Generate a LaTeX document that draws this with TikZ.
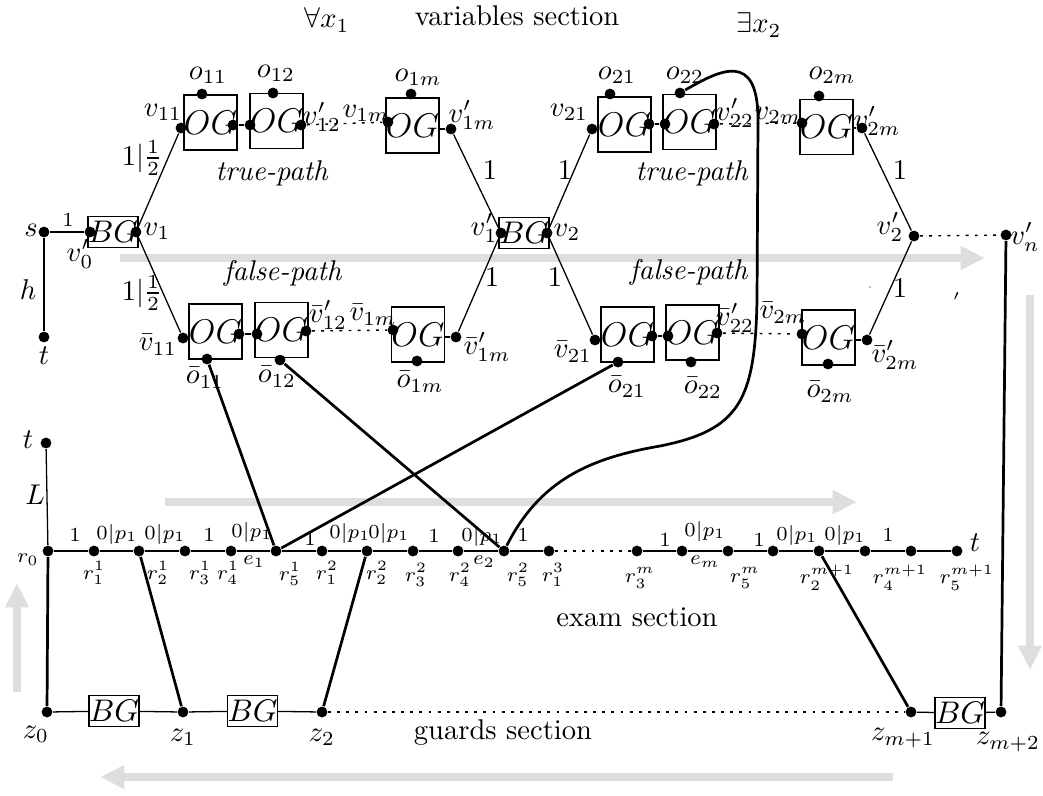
\documentclass[tikz,border=0pt]{standalone}
\usetikzlibrary{arrows.meta}
\begin{document}
\begin{tikzpicture}[x=0.35pt,y=-0.35pt,
  dot/.style={circle,fill=black,inner sep=0pt,minimum size=3.8pt},
  ogbox/.style={draw,rectangle,line width=0.45pt,minimum width=17.2pt,minimum height=19.3pt,inner sep=0pt,font=\large},
  bgbox/.style={draw,rectangle,line width=0.45pt,minimum width=16.2pt,minimum height=10.8pt,inner sep=0pt,font=\fontsize{10.5}{12}\selectfont},
  lbl/.style={inner sep=0pt},
  small/.style={inner sep=0pt,font=\scriptsize},
  wire/.style={line width=0.45pt},
  link/.style={line width=0.95pt},
  dotline/.style={line width=0.5pt,dash pattern=on 1pt off 2.2pt},
  flow/.style={draw=black!13,line width=2.5pt,-{Triangle[length=8.5pt,width=7.8pt]}}]
\useasboundingbox (0,0) rectangle (1043,795);

% ---------- direction arrows ----------
\draw[flow] (120,258) -- (985,258);
\draw[flow] (1030,295) -- (1030,670);
\draw[flow] (893,777) -- (100,777);
\draw[flow] (17,692) -- (17,583);
\draw[flow] (165,502) -- (857,502);

% ---------- headings ----------
\node[lbl] (hfa) at (327,20) {$\forall x_1$};
\node[lbl] (hvar) at (517,16) {variables section};
\node[lbl] (hex) at (759,25) {$\exists x_2$};

% ---------- start gadget ----------
\node[dot] (s) at (44,232) {};
\node[lbl] (ls) at (31,230) {$s$};
\node[dot] (t0) at (44,337) {};
\node[lbl] (lt0) at (44,356) {$t$};
\node[lbl] (lh) at (28,290) {$h$};
\node[bgbox] (bg1) at (113,232) {$BG$};
\node[dot] (v0) at (90,232) {};
\node[dot] (v1) at (136,232) {};
\node[lbl] (lv0) at (80,254) {$v'_0$};
\node[lbl] (lv1) at (157,231) {$v_1$};
\node[small] (ls1) at (68,220) {$1$};
\draw[wire] (s) -- (v0);
\draw[wire] (s) -- (t0);

% ---------- true path of x1 ----------
\node[ogbox] (b11) at (210.5,122.5) {$OG$};
\node[ogbox] (b12) at (276.5,121) {$OG$};
\node[ogbox] (b1m) at (412.5,125.5) {$OG$};
\node[dot] (v11) at (181,128) {};
\node[dot] (b11r) at (233,125) {};
\node[dot] (b12l) at (250,125) {};
\node[dot] (v12p) at (301,125) {};
\node[dot] (o11) at (202,94) {};
\node[dot] (o12) at (273,93) {};
\node[dot] (v1m) at (388,122) {};
\node[dot] (o1m) at (411,94) {};
\node[dot] (v1mp) at (451,129) {};
\draw[wire] (b11r) -- (b12l);
\draw[dotline] (v12p) -- (v1m);
\draw[wire] (b1m.east |- v1mp) -- (v1mp);
\node[lbl] (lo11) at (208,75) {$o_{11}$};
\node[lbl] (lo12) at (276,73) {$o_{12}$};
\node[lbl] (lv11) at (163,112) {$v_{11}$};
\node[lbl] (lv12p) at (322,117) {$v'_{12}$};
\node[lbl] (lv1m) at (366,113) {$v_{1m}$};
\node[lbl] (lo1m) at (418,77) {$o_{1m}$};
\node[lbl] (lv1mp) at (472,115) {$v'_{1m}$};
\node[lbl] (ltp1) at (272,173) {\textit{true-path}};

% ---------- false path of x1 ----------
\node[ogbox] (f11) at (215.5,331.5) {$OG$};
\node[ogbox] (f12) at (281.5,330) {$OG$};
\node[ogbox] (f1m) at (418,334.5) {$OG$};
\node[dot] (vb11) at (183,338) {};
\node[dot] (f11r) at (239,334) {};
\node[dot] (f12l) at (257,334) {};
\node[dot] (vb12p) at (306,331) {};
\node[dot] (ob11) at (207,359) {};
\node[dot] (ob12) at (280,360) {};
\node[dot] (vb1m) at (393,330) {};
\node[dot] (ob1m) at (417,361) {};
\node[dot] (vb1mp) at (456,337) {};
\draw[wire] (f11r) -- (f12l);
\draw[dotline] (vb12p) -- (vb1m);
\draw[wire] (f1m.east |- vb1mp) -- (vb1mp);
\node[lbl] (lvb11) at (158,345) {$\bar v_{11}$};
\node[lbl] (lob11) at (205,378) {$\bar o_{11}$};
\node[lbl] (lob12) at (277,377) {$\bar o_{12}$};
\node[lbl] (lvb12p) at (328,315) {$\bar v'_{12}$};
\node[lbl] (lvb1m) at (373,315) {$\bar v_{1m}$};
\node[lbl] (lob1m) at (420,382) {$\bar o_{1m}$};
\node[lbl] (lvb1mp) at (487,347) {$\bar v'_{1m}$};
\node[lbl] (lfp1) at (283,273) {\textit{false-path}};

\draw[wire] (v1) -- (v11);
\draw[wire] (v1) -- (vb11);
\node[lbl] (lw1) at (142,158) {$1|\frac{1}{2}$};
\node[lbl] (lw2) at (142,293) {$1|\frac{1}{2}$};

% ---------- junction between x1 and x2 ----------
\node[bgbox] (bg2) at (524,233) {$BG$};
\node[dot] (v1p) at (501,233) {};
\node[dot] (v2) at (547,233) {};
\node[lbl] (lv1p) at (484,228) {$v'_1$};
\node[lbl] (lv2) at (567,232) {$v_2$};
\draw[wire] (v1mp) -- (v1p);
\draw[wire] (vb1mp) -- (v1p);
\node[lbl] (lw3) at (490,170) {$1$};
\node[lbl] (lw4) at (492,277) {$1$};

% ---------- true path of x2 ----------
\node[ogbox] (b21) at (624.5,124.5) {$OG$};
\node[ogbox] (b22) at (689.5,122) {$OG$};
\node[ogbox] (b2m) at (826.5,127) {$OG$};
\node[dot] (v21) at (592,129) {};
\node[dot] (b21r) at (649,124) {};
\node[dot] (b22l) at (665,124) {};
\node[dot] (o21) at (610,94) {};
\node[dot] (o22) at (680,93) {};
\node[dot] (v22p) at (714,124) {};
\node[dot] (v2m) at (802,123) {};
\node[dot] (o2m) at (819,96) {};
\node[dot] (v2mp) at (862,128) {};
\draw[wire] (b21r) -- (b22l);
\draw[dotline] (v22p) -- (v2m);
\draw[wire] (b2m.east |- v2mp) -- (v2mp);
\node[lbl] (lv21) at (569,112) {$v_{21}$};
\node[lbl] (lo21) at (617,75) {$o_{21}$};
\node[lbl] (lo22) at (685,75) {$o_{22}$};
\node[lbl] (lv22p) at (735,113) {$v'_{22}$};
\node[lbl] (lv2m) at (778,115) {$v_{2m}$};
\node[lbl] (lo2m) at (832,75) {$o_{2m}$};
\node[lbl] (lv2mp) at (877,121) {$v'_{2m}$};
\node[lbl] (ltp2) at (692,173) {\textit{true-path}};

% ---------- false path of x2 ----------
\node[ogbox] (f21) at (627.5,334.5) {$OG$};
\node[ogbox] (f22) at (692.5,332.5) {$OG$};
\node[ogbox] (f2m) at (828.5,337.5) {$OG$};
\node[dot] (vb21) at (595,340) {};
\node[dot] (f21r) at (652,336) {};
\node[dot] (f22l) at (668,336) {};
\node[dot] (ob21) at (618,362) {};
\node[dot] (ob22) at (691,362) {};
\node[dot] (vb22p) at (717,333) {};
\node[dot] (vb2m) at (802,334) {};
\node[dot] (ob2m) at (828,364) {};
\node[dot] (vb2mp) at (867,340) {};
\draw[wire] (f21r) -- (f22l);
\draw[dotline] (vb22p) -- (vb2m);
\draw[wire] (f2m.east |- vb2mp) -- (vb2mp);
\node[lbl] (lvb21) at (573,352) {$\bar v_{21}$};
\node[lbl] (lob21) at (627,387) {$\bar o_{21}$};
\node[lbl] (lvb22p) at (735,318) {$\bar v'_{22}$};
\node[lbl] (lob22) at (703,388) {$\bar o_{22}$};
\node[lbl] (lvb2m) at (783,313) {$\bar v_{2m}$};
\node[lbl] (lob2m) at (830,392) {$\bar o_{2m}$};
\node[lbl] (lvb2mp) at (895,355) {$\bar v'_{2m}$};
\node[lbl] (lfp2) at (689,272) {\textit{false-path}};

\draw[wire] (v2) -- (v21);
\draw[wire] (v2) -- (vb21);
\node[lbl] (lw5) at (565,170) {$1$};
\node[lbl] (lw6) at (555,277) {$1$};

% ---------- end of variables section ----------
\node[dot] (v2p) at (914,236) {};
\node[dot] (vnp) at (1006,235) {};
\node[lbl] (lv2p) at (890,227) {$v'_2$};
\node[lbl] (lvnp) at (1025,237) {$v'_n$};
\draw[wire] (v2mp) -- (v2p);
\draw[wire] (vb2mp) -- (v2p);
\draw[dotline] (v2p) -- (vnp);
\node[lbl] (lw7) at (900,170) {$1$};
\node[lbl] (lw8) at (900,288) {$1$};
\node[lbl] (stray) at (957,301) {\scriptsize$'$};
\fill (870,287) circle (0.25pt);

% ---------- exam section ----------
\node[dot] (t1) at (46,443) {};
\node[lbl] (lt1) at (28,440) {$t$};
\node[lbl] (lL) at (35,495) {$L$};
\node[dot] (r0) at (48,551) {};
\node[dot] (r11) at (94,551) {};
\node[dot] (r12) at (139,551) {};
\node[dot] (r13) at (185,551) {};
\node[dot] (r14) at (231,551) {};
\node[dot] (r15) at (276,551) {};
\node[dot] (r21) at (322,551) {};
\node[dot] (r22) at (367,551) {};
\node[dot] (r23) at (413,551) {};
\node[dot] (r24) at (458,551) {};
\node[dot] (r25) at (504,551) {};
\node[dot] (r31) at (549,551) {};
\node[dot] (rm3) at (637,551) {};
\node[dot] (rm4) at (682,551) {};
\node[dot] (rm5) at (728,551) {};
\node[dot] (rn1) at (773,551) {};
\node[dot] (rn2) at (819,551) {};
\node[dot] (rn3) at (865,551) {};
\node[dot] (rn4) at (911,551) {};
\node[dot] (rn5) at (957,551) {};
\node[lbl] (lt2) at (975,543) {$t$};
\draw[wire] (t1) -- (r0);
\draw[wire] (r0) -- (r11) -- (r12) -- (r13) -- (r14) -- (r15) -- (r21)
  -- (r22) -- (r23) -- (r24) -- (r25) -- (r31);
\draw[dotline] (r31) -- (rm3);
\draw[wire] (rm3) -- (rm4) -- (rm5) -- (rn1) -- (rn2) -- (rn3) -- (rn4) -- (rn5);

% weights on the exam path
\node[small] (w01) at (75,535) {$1$};
\node[small] (w02) at (117,534) {$0|p_1$};
\node[small] (w03) at (165,534) {$0|p_1$};
\node[small] (w04) at (209,535) {$1$};
\node[small] (w05) at (252,532) {$0|p_1$};
\node[small] (w06) at (310,539) {$1$};
\node[small] (w07) at (350,533) {$0|p_1$};
\node[small] (w08) at (389,533) {$0|p_1$};
\node[small] (w09) at (434,536) {$1$};
\node[small] (w10) at (482,536) {$0|p_1$};
\node[small] (w11) at (523,535) {$1$};
\node[small] (w12) at (665,540) {$1$};
\node[small] (w13) at (705,531) {$0|p_1$};
\node[small] (w14) at (759,540) {$1$};
\node[small] (w15) at (797,535) {$0|p_1$};
\node[small] (w16) at (845,535) {$0|p_1$};
\node[small] (w17) at (888,535) {$1$};

% names on the exam path
\node[small] (lr0) at (28,560) {$r_0$};
\node[small] (lr11) at (94,573) {$r^1_1$};
\node[small] (lr12) at (158,573) {$r^1_2$};
\node[small] (lr13) at (200,573) {$r^1_3$};
\node[small] (lr14) at (228,573) {$r^1_4$};
\node[small] (le1) at (254,562) {$e_1$};
\node[small] (lr15) at (290,574) {$r^1_5$};
\node[small] (lr21) at (327,573) {$r^2_1$};
\node[small] (lr22) at (377,573) {$r^2_2$};
\node[small] (lr23) at (416,575) {$r^2_3$};
\node[small] (lr24) at (460,575) {$r^2_4$};
\node[small] (le2) at (484,562) {$e_2$};
\node[small] (lr25) at (518,575) {$r^2_5$};
\node[small] (lr31) at (553,575) {$r^3_1$};
\node[small] (lrm3) at (640,578) {$r^m_3$};
\node[small] (lem) at (705,562) {$e_m$};
\node[small] (lrm5) at (745,578) {$r^m_5$};
\node[small] (lrn2) at (827,578) {$r^{m+1}_2$};
\node[small] (lrn4) at (900,578) {$r^{m+1}_4$};
\node[small] (lrn5) at (967,578) {$r^{m+1}_5$};
\node[lbl] (hexam) at (637,617) {exam section};

% ---------- guards section ----------
\node[dot] (z0) at (47,712) {};
\node[dot] (z1) at (183,712) {};
\node[dot] (z2) at (322,712) {};
\node[dot] (zm1) at (911,712) {};
\node[dot] (zm2) at (1001,712) {};
\node[bgbox] (bgz1) at (114,711) {$BG$};
\node[bgbox] (bgz2) at (252.5,711) {$BG$};
\node[bgbox] (bgz3) at (960,713) {$BG$};
\draw[wire] (z0) -- (bgz1) -- (z1) -- (bgz2) -- (z2);
\draw[dotline] (z2) -- (zm1);
\draw[wire] (zm1) -- (bgz3) -- (zm2);
\node[lbl] (lz0) at (36,734) {$z_0$};
\node[lbl] (lz1) at (183,737) {$z_1$};
\node[lbl] (lz2) at (322,737) {$z_2$};
\node[lbl] (lzm1) at (903,738) {$z_{m+1}$};
\node[lbl] (lzm2) at (1008,742) {$z_{m+2}$};
\node[lbl] (hguard) at (503,732) {guards section};

% ---------- links between the sections ----------
\draw[link] (r0) -- (z0);
\draw[link] (r12) -- (z1);
\draw[link] (r22) -- (z2);
\draw[link] (rn2) -- (zm1);
\draw[link] (vnp) -- (zm2);
\draw[link] (ob11) -- (r15);
\draw[link] (ob21) -- (r15);
\draw[link] (ob12) -- (r25);
\draw[link] (o22) .. controls (720,70) and (758,50) .. (758,120)
  -- (757,300) .. controls (755,400) and (740,430) .. (660,446)
  .. controls (590,458) and (540,480) .. (r25);
\end{tikzpicture}
\end{document}
